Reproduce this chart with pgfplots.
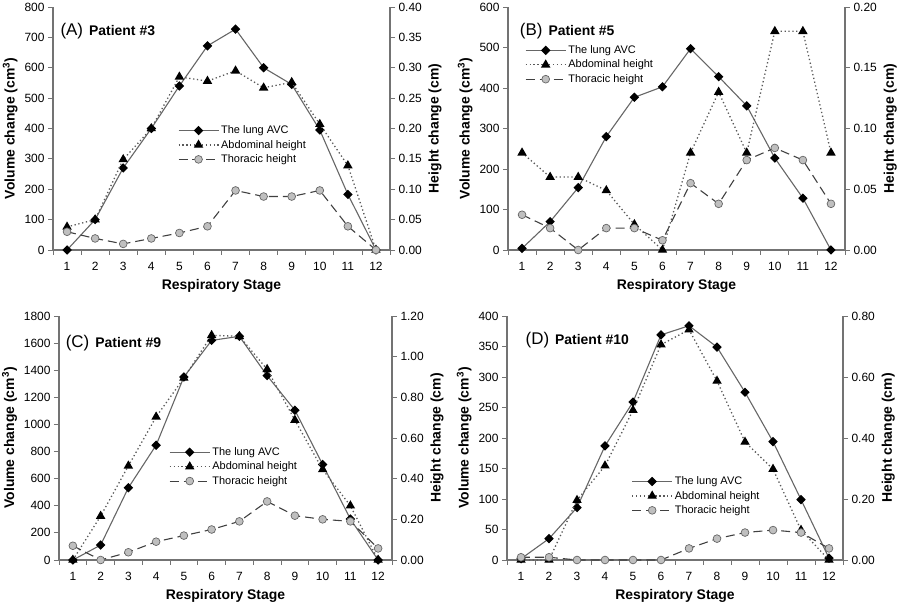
\documentclass[border=0pt]{standalone}
\usepackage{pgfplots}
\pgfplotsset{compat=1.18}
\usepackage{fontspec}
\setmainfont{Liberation Sans}

\pgfplotsset{
 base/.style={scale only axis, xmin=0.5, xmax=12.5, ymin=0,
   tick label style={font=\fontsize{12}{13}\selectfont, black},
   /pgf/number format/assume math mode=true,
   /pgf/number format/1000 sep={},
   tick align=outside, major tick length=5bp, minor tick length=5bp,
   tick style={black!55, line width=0.8pt},
   axis line style={-, draw=black!55, line width=1.1pt},
   label style={font=\bfseries\fontsize{14}{15}\selectfont},
   clip=false,
 },
 leftax/.style={base, axis x line*=bottom, axis y line*=left,
   xtick={1,2,...,12}, minor xtick={0.5,1.5,...,12.5},
   major x tick style={draw=none},
   xticklabel style={yshift=-4bp},
   xlabel={Respiratory Stage}, ylabel={Volume change (cm\textsuperscript{3})},
   xlabel style={yshift=-2bp}},
 rightax/.style={base, axis x line=none, axis y line*=right,
   yticklabel style={/pgf/number format/fixed, /pgf/number format/fixed zerofill, /pgf/number format/precision=2},
   ylabel={Height change (cm)},
   legend cell align=left,
   legend image code/.code={\draw[mark repeat=2,mark phase=2] plot coordinates {(0bp,0bp)(20bp,0bp)(40bp,0bp)};},
   legend style={draw=none, fill=none, inner sep=0pt, font=\fontsize{11}{12.5}\selectfont, row sep=1bp, anchor=north west},
   legend entries={The lung AVC, Abdominal height, Thoracic height}},
 lung/.style={color=black!60, solid, line width=1.1pt, mark=square*, mark size=2.8pt,
   mark options={rotate=45, solid, fill=black, draw=black}},
 abd/.style={color=black!65, line width=1.3pt, dash pattern=on 1.3pt off 2.6pt, mark=triangle*, mark size=4.2pt,
   mark options={solid, fill=black, draw=black}},
 tho/.style={color=black!75, line width=1.1pt, dash pattern=on 9pt off 5pt, mark=*, mark size=3.9pt,
   mark options={solid, fill=black!25, draw=black!60, line width=0.7pt}},
}

\newcommand{\paneltitle}[2]{{\fontsize{17}{18}\selectfont #1}\hspace{6bp}\textbf{\fontsize{14}{15}\selectfont #2}}

\begin{document}
\begin{tikzpicture}[x=1bp,y=1bp]
\useasboundingbox (0,0) rectangle (900,605);

% ---------------- Panel A
\begin{axis}[leftax, at={(53bp,355bp)}, anchor=south west, width=337bp, height=243bp,
  ymax=800, ytick distance=100]
\addplot[lung] coordinates {(1,0)(2,100)(3,270)(4,400)(5,540)(6,672)(7,727)(8,600)(9,545)(10,395)(11,183)(12,0)};
\node[anchor=west] at (rel axis cs:0.012,0.9) {\paneltitle{(A)}{Patient \#3}};
\end{axis}
\begin{axis}[rightax, at={(53bp,355bp)}, anchor=south west, width=337bp, height=243bp,
  ymax=0.4, ytick={0,0.05,0.1,0.15,0.2,0.25,0.3,0.35,0.4},
  legend style={at={(rel axis cs:0.37,0.52)}}]
\addlegendimage{lung}
\addplot[abd] coordinates {(1,0.038)(2,0.05)(3,0.149)(4,0.2)(5,0.285)(6,0.278)(7,0.295)(8,0.267)(9,0.276)(10,0.207)(11,0.139)(12,0)};
\addplot[tho] coordinates {(1,0.03)(2,0.019)(3,0.01)(4,0.019)(5,0.028)(6,0.039)(7,0.098)(8,0.088)(9,0.088)(10,0.098)(11,0.039)(12,0)};
\end{axis}

% ---------------- Panel B
\begin{axis}[leftax, at={(508bp,355bp)}, anchor=south west, width=337bp, height=243bp,
  ymax=600, ytick distance=100]
\addplot[lung] coordinates {(1,4)(2,70)(3,154)(4,280)(5,377)(6,403)(7,497)(8,428)(9,356)(10,227)(11,128)(12,0)};
\node[anchor=west] at (rel axis cs:0.025,0.9) {\paneltitle{(B)}{Patient \#5}};
\end{axis}
\begin{axis}[rightax, at={(508bp,355bp)}, anchor=south west, width=337bp, height=243bp,
  ymax=0.2, ytick={0,0.05,0.1,0.15,0.2},
  legend style={at={(rel axis cs:0.05,0.85)}}]
\addlegendimage{lung}
\addplot[abd] coordinates {(1,0.08)(2,0.06)(3,0.06)(4,0.049)(5,0.021)(6,0)(7,0.08)(8,0.13)(9,0.08)(10,0.18)(11,0.18)(12,0.08)};
\addplot[tho] coordinates {(1,0.029)(2,0.018)(3,0)(4,0.018)(5,0.018)(6,0.008)(7,0.055)(8,0.038)(9,0.074)(10,0.084)(11,0.074)(12,0.038)};
\end{axis}

% ---------------- Panel C
\begin{axis}[leftax, at={(59bp,45bp)}, anchor=south west, width=333bp, height=244bp,
  ymax=1800, ytick distance=200]
\addplot[lung] coordinates {(1,0)(2,110)(3,533)(4,847)(5,1350)(6,1620)(7,1650)(8,1360)(9,1105)(10,705)(11,302)(12,0)};
\node[anchor=west] at (rel axis cs:0.01,0.89) {\paneltitle{(C)}{Patient \#9}};
\end{axis}
\begin{axis}[rightax, at={(59bp,45bp)}, anchor=south west, width=333bp, height=244bp,
  ymax=1.2, ytick={0,0.2,0.4,0.6,0.8,1.0,1.2},
  legend style={at={(rel axis cs:0.33,0.47)}}]
\addlegendimage{lung}
\addplot[abd] coordinates {(1,0)(2,0.216)(3,0.463)(4,0.704)(5,0.895)(6,1.105)(7,1.10)(8,0.938)(9,0.688)(10,0.445)(11,0.267)(12,0)};
\addplot[tho] coordinates {(1,0.07)(2,0)(3,0.038)(4,0.09)(5,0.12)(6,0.15)(7,0.19)(8,0.288)(9,0.218)(10,0.2)(11,0.19)(12,0.057)};
\end{axis}

% ---------------- Panel D
\begin{axis}[leftax, at={(507bp,45bp)}, anchor=south west, width=336bp, height=244bp,
  ymax=400, ytick distance=50]
\addplot[lung] coordinates {(1,2)(2,35)(3,86)(4,187)(5,259)(6,369)(7,384)(8,349)(9,275)(10,194)(11,99)(12,3)};
\node[anchor=west] at (rel axis cs:0.045,0.9) {\paneltitle{(D)}{Patient \#10}};
\end{axis}
\begin{axis}[rightax, at={(507bp,45bp)}, anchor=south west, width=336bp, height=244bp,
  ymax=0.8, ytick={0,0.2,0.4,0.6,0.8},
  legend style={at={(rel axis cs:0.37,0.35)}}]
\addlegendimage{lung}
\addplot[abd] coordinates {(1,0)(2,0)(3,0.196)(4,0.309)(5,0.491)(6,0.706)(7,0.755)(8,0.587)(9,0.387)(10,0.298)(11,0.098)(12,0)};
\addplot[tho] coordinates {(1,0.009)(2,0.009)(3,0)(4,0)(5,0)(6,0)(7,0.038)(8,0.07)(9,0.09)(10,0.098)(11,0.09)(12,0.038)};
\end{axis}
\end{tikzpicture}
\end{document}
